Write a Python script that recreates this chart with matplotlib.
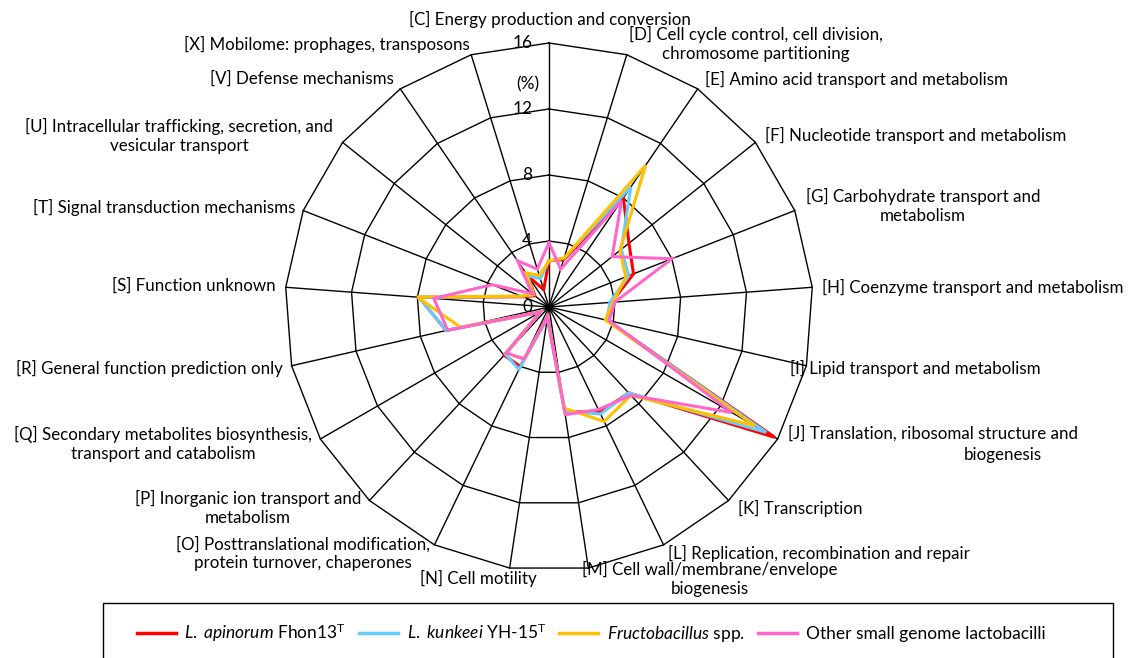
import numpy as np
import matplotlib as mpl
mpl.use("Agg")
import matplotlib.pyplot as plt
from matplotlib.lines import Line2D
from matplotlib.patches import Rectangle

plt.rcParams["font.family"] = ["Lato", "DejaVu Sans"]
plt.rcParams["mathtext.fontset"] = "custom"
plt.rcParams["mathtext.rm"] = "Lato"
plt.rcParams["mathtext.it"] = "Lato:italic"

# COG categories, clockwise from the top
cog_codes = ["C", "D", "E", "F", "G", "H", "I", "J", "K", "L", "M",
             "N", "O", "P", "Q", "R", "S", "T", "U", "V", "X"]

# percentage of genes per COG category
apinorum = [2.8, 3.0, 8.0, 6.2, 5.5, 3.8, 3.6, 15.8, 7.1, 7.1, 6.4,
            0.6, 4.0, 4.0, 0.6, 6.4, 7.9, 1.7, 1.1, 2.3, 1.1]
kunkeei = [2.8, 3.1, 8.8, 5.6, 5.2, 3.7, 3.6, 15.2, 7.1, 7.2, 6.4,
           0.7, 4.2, 3.9, 0.6, 6.4, 7.9, 1.8, 1.2, 2.3, 1.8]
fructobacillus = [2.8, 3.1, 10.4, 5.5, 5.0, 3.9, 3.5, 14.4, 7.3, 7.7, 6.2,
                  0.6, 3.5, 3.8, 0.6, 5.5, 8.0, 1.8, 1.2, 2.5, 2.0]
other_small = [3.9, 2.4, 7.8, 4.9, 8.0, 4.0, 3.75, 12.8, 7.3, 6.9, 6.6,
               0.6, 3.5, 3.8, 0.6, 6.3, 7.0, 3.7, 1.3, 3.4, 2.4]

series = [apinorum, kunkeei, fructobacillus, other_small]
series_names = [r"$\it{L.\ apinorum}$ Fhon13$^\mathrm{T}$",
                r"$\it{L.\ kunkeei}$ YH-15$^\mathrm{T}$",
                r"$\it{Fructobacillus}$ spp.",
                "Other small genome lactobacilli"]
colors = ["#FF0000", "#66CCFF", "#FFC000", "#FF66CC"]

r_ticks = [0, 4, 8, 12, 16]

# label text, anchor (px), alignment
cat_labels = [
    ("[C] Energy production and conversion", 550, 19, "center"),
    ("[D] Cell cycle control, cell division,\nchromosome partitioning", 756, 44, "center"),
    ("[E] Amino acid transport and metabolism", 705, 79, "left"),
    ("[F] Nucleotide transport and metabolism", 765, 135, "left"),
    ("[G] Carbohydrate transport and\nmetabolism", 923, 206, "center"),
    ("[H] Coenzyme transport and metabolism", 822, 287, "left"),
    ("[I] Lipid transport and metabolism", 790, 368, "left"),
    ("[J] Translation, ribosomal structure and", 788, 433, "left"),
    ("biogenesis", 1003, 455, "center"),
    ("[K] Transcription", 738, 508, "left"),
    ("[L] Replication, recombination and repair", 668, 553, "left"),
    ("[M] Cell wall/membrane/envelope\nbiogenesis", 710, 579, "center"),
    ("[N] Cell motility", 537, 578, "right"),
    ("[O] Posttranslational modification,\nprotein turnover, chaperones", 303, 554, "center"),
    ("[P] Inorganic ion transport and\nmetabolism", 248, 508, "center"),
    ("[Q] Secondary metabolites biosynthesis,\ntransport and catabolism", 163, 444, "center"),
    ("[R] General function prediction only", 283, 368, "right"),
    ("[S] Function unknown", 276, 286, "right"),
    ("[T] Signal transduction mechanisms", 295, 207, "right"),
    ("[U] Intracellular trafficking, secretion, and\nvesicular transport", 179, 136, "center"),
    ("[V] Defense mechanisms", 394, 79, "right"),
    ("[X] Mobilome: prophages, transposons", 470, 44, "right"),
]

W, H = 1133, 658
fig = plt.figure(figsize=(W / 100, H / 100), dpi=100)
cx, cy, rad = 549, 307, 264
ax = fig.add_axes([(cx - rad) / W, (H - cy - rad) / H, 2 * rad / W, 2 * rad / H],
                  projection="polar")
ax.set_theta_offset(np.pi / 2)
ax.set_theta_direction(-1)
ax.set_ylim(0, 16)
ax.set_xticks([])
ax.set_yticks([])
ax.grid(False)
ax.spines["polar"].set_visible(False)
ax.patch.set_visible(False)

n = len(cog_codes)
angles = np.arange(n) * 2 * np.pi / n
closed = np.append(angles, angles[0])

# polygon grid + spokes
for r in r_ticks[1:]:
    ax.plot(closed, [r] * (n + 1), color="black", lw=1.0, clip_on=False, zorder=1)
for a in angles:
    ax.plot([a, a], [0, 16], color="black", lw=1.0, clip_on=False, zorder=1)

for vals, c in zip(series, colors):
    ax.plot(closed, vals + vals[:1], color=c, lw=2.2, solid_joinstyle="miter",
            clip_on=False, zorder=3)

for r in r_ticks:
    ax.annotate(str(r), xy=(0, r), xytext=(-12, 0), textcoords="offset points",
                ha="right", va="center", fontsize=12.5)
ax.annotate("(%)", xy=(0, 13.5), xytext=(-15, 0), textcoords="offset points",
            ha="center", va="center", fontsize=12.5)

for txt, x, y, ha in cat_labels:
    fig.text(x / W, 1 - y / H, txt, ha=ha, va="center", fontsize=12.2,
             multialignment="center")

# legend box
fig.patches.append(Rectangle((103 / W, -0.05), (1113 - 103) / W, 0.05 + (H - 603) / H,
                             transform=fig.transFigure, fill=False,
                             edgecolor="black", lw=1.0))
handles = [Line2D([], [], color=c, lw=2.5) for c in colors]
fig.legend(handles, series_names, loc="center", bbox_to_anchor=(591 / W, 1 - 633 / H),
           ncol=4, frameon=False, fontsize=12.5, handlelength=2.25,
           handletextpad=0.5, columnspacing=0.75)

fig.savefig("out.png", dpi=100)
